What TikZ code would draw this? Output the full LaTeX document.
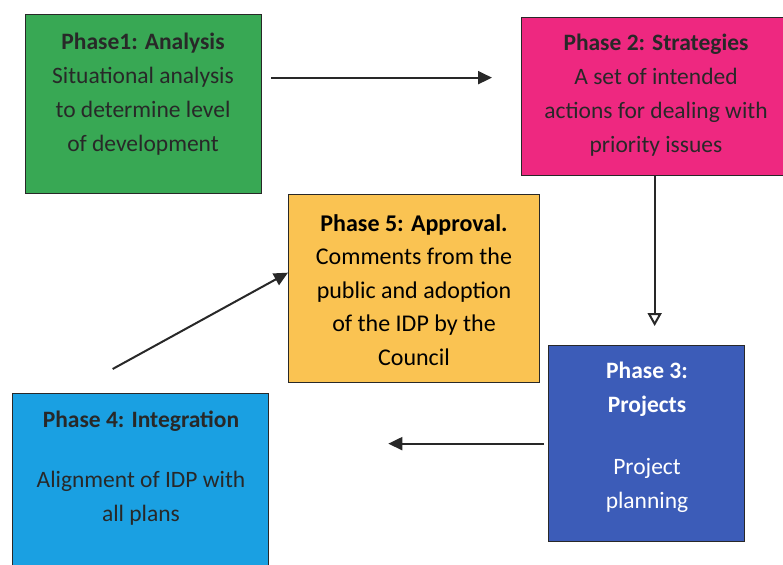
\documentclass[tikz,border=0pt]{standalone}
\usepackage{fontspec}
\setmainfont{Carlito}
\usetikzlibrary{arrows.meta}
\definecolor{phgreen}{RGB}{56,168,84}
\definecolor{phpink}{RGB}{238,40,128}
\definecolor{phyellow}{RGB}{250,195,82}
\definecolor{phsky}{RGB}{26,160,226}
\definecolor{phnavy}{RGB}{60,92,184}
\definecolor{ink}{RGB}{40,40,40}
\begin{document}
\begin{tikzpicture}[x=1pt,y=-1pt,
  box/.style={draw=ink, line width=1.3pt, inner sep=0pt, anchor=north west},
  txt/.style={align=center, inner sep=0pt, font=\fontsize{23.5}{34}\selectfont},
  conn/.style={draw=ink, line width=2pt},
  tipfull/.style={-{Triangle[length=14pt,width=13pt]}},
  tipopen/.style={-{Triangle[open,length=13pt,width=14pt,fill=white]}}]
\useasboundingbox (0,0) rectangle (783,564);

% phase boxes
\node[box, fill=phgreen,  minimum width=236pt, minimum height=179pt] (p1) at (25,14) {};
\node[box, fill=phpink,   minimum width=266pt, minimum height=158pt] (p2) at (521,17) {};
\node[box, fill=phyellow, minimum width=251pt, minimum height=188pt] (p5) at (288,194) {};
\node[box, fill=phnavy,   minimum width=196pt, minimum height=196pt] (p3) at (548,345) {};
\node[box, fill=phsky,    minimum width=256pt, minimum height=180pt] (p4) at (12,393) {};

% box texts
\node[txt, text=ink] (t1) at (143,94)
  {\textbf{Phase1: Analysis}\\Situational analysis\\to determine level\\of development};
\node[txt, text=ink] (t2) at (656,95)
  {\textbf{Phase 2: Strategies}\\A set of intended\\actions for dealing with\\priority issues};
\node[txt, text=black, font=\fontsize{24}{33.5}\selectfont] (t5) at (414,290)
  {\textbf{Phase 5: Approval.}\\Comments from the\\public and adoption\\of the IDP by the\\Council};
\node[txt, text=white] (t3) at (647,437)
  {\textbf{Phase 3:}\\\textbf{Projects}\\[28pt]Project\\planning};
\node[txt, text=ink] (t4) at (141,468)
  {\textbf{Phase 4: Integration}\\[26pt]Alignment of IDP with\\all plans};

% connectors
\draw[conn, tipfull, shorten <=9pt, shorten >=29pt]
  ([yshift=26.5pt]p1.east) -- ([yshift=19pt]p2.west);
\draw[conn, tipopen, shorten >=19pt]
  (p2.south) -- (p2.south |- p3.north);
\draw[conn, tipfull, shorten <=4pt, shorten >=119pt]
  (p3.west) -- (p3.west -| p4.east);
\draw[conn, tipfull]
  ([xshift=-28pt, yshift=24pt]p4.north) -- ([yshift=16pt]p5.west);
\end{tikzpicture}
\end{document}
